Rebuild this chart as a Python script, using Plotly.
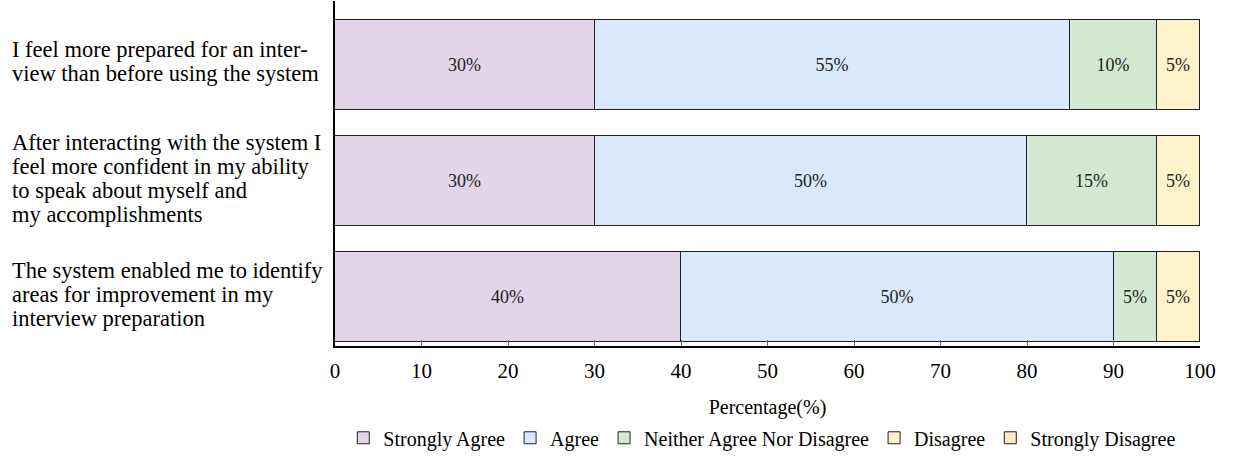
import plotly.graph_objects as go

statements = [
    "I feel more prepared for an inter-\nview than before using the system",
    "After interacting with the system I\nfeel more confident in my ability\nto speak about myself and\nmy accomplishments",
    "The system enabled me to identify\nareas for improvement in my\ninterview preparation",
]
series_names = ["Strongly Agree", "Agree", "Neither Agree Nor Disagree", "Disagree", "Strongly Disagree"]
strongly_agree = [30, 30, 40]
agree = [55, 50, 50]
neither = [10, 15, 5]
disagree = [5, 5, 5]
strongly_disagree = [0, 0, 0]
x_ticks = [0, 10, 20, 30, 40, 50, 60, 70, 80, 90, 100]

colors = ["#e1d5e7", "#dae8fc", "#d5e8d4", "#fff2cc", "#ffe6cc"]
values = [strongly_agree, agree, neither, disagree, strongly_disagree]
ypos = list(range(len(statements)))

FONT = "Liberation Serif, Times New Roman, DejaVu Serif, serif"
fig = go.Figure()
for name, vals, col in zip(series_names, values, colors):
    fig.add_trace(go.Bar(
        x=vals, y=ypos, orientation="h", name=name,
        marker=dict(color=col, line=dict(color="#222222", width=1)),
        width=0.77,
        text=[f"{v}%" if v > 0 else "" for v in vals],
        textposition="inside", insidetextanchor="middle", textangle=0,
        constraintext="none",
        textfont=dict(family=FONT, size=18, color="#222222"),
    ))

LINE_H = 24
for i, s in enumerate(statements):
    lines = s.split("\n")
    n = len(lines)
    for k, ln in enumerate(lines):
        fig.add_annotation(
            text=ln, xref="paper", yref="y", x=-0.3757, y=i,
            yshift=((n - 1) / 2 - k) * LINE_H + 3,
            xanchor="left", yanchor="middle", align="left", showarrow=False,
            font=dict(family=FONT, size=22.5, color="#000000"),
        )

fig.update_layout(
    barmode="stack",
    width=1246, height=458,
    margin=dict(l=335, r=46, t=1, b=110),
    plot_bgcolor="white", paper_bgcolor="white",
    font=dict(family=FONT, size=20, color="#000000"),
    showlegend=True,
    legend=dict(
        orientation="h", x=0.494, y=-0.266, xanchor="center", yanchor="middle",
        font=dict(family=FONT, size=20), traceorder="normal",
        itemwidth=30, tracegroupgap=0,
    ),
    bargap=0,
)
fig.update_xaxes(
    range=[0, 100], tickvals=x_ticks, ticks="inside", ticklen=6, tickcolor="#666666",
    showline=True, linecolor="#000000", linewidth=1.5, showgrid=False, zeroline=False,
    title=dict(text="Percentage(%)", font=dict(family=FONT, size=20), standoff=18),
    tickfont=dict(family=FONT, size=21), ticklabelstandoff=5,
)
fig.update_yaxes(
    range=[2.42, -0.55], showticklabels=False, ticks="",
    showline=True, linecolor="#000000", linewidth=1.5, showgrid=False, zeroline=False,
)
fig.write_html("out.html", config={"displayModeBar": False},
               post_script="document.body.style.margin='0';")
